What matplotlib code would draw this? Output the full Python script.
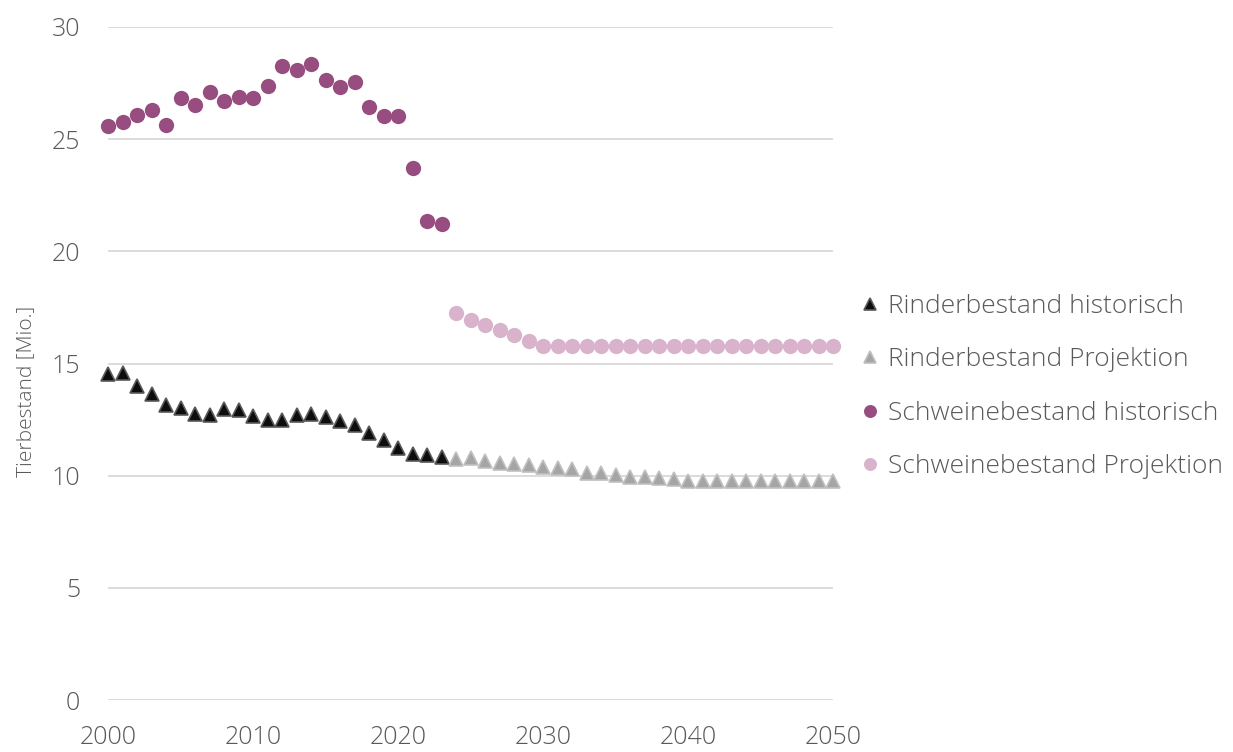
import numpy as np
import matplotlib
matplotlib.use("Agg")
import matplotlib.pyplot as plt

plt.rcParams["font.family"] = ["Open Sans", "DejaVu Sans"]
plt.rcParams["font.weight"] = "light"

# ---------- data (Mio. Tiere) ----------
years_hist = np.arange(2000, 2024)
years_proj = np.arange(2024, 2051)

rinder_hist = [14.53, 14.58, 14.00, 13.62, 13.15, 13.02, 12.75, 12.70, 12.97, 12.92,
               12.64, 12.50, 12.50, 12.70, 12.75, 12.60, 12.44, 12.25, 11.92, 11.60,
               11.24, 10.97, 10.93, 10.82]
rinder_proj = [10.76, 10.79, 10.67, 10.57, 10.52, 10.48, 10.40, 10.34, 10.30, 10.14,
               10.12, 10.03, 9.96, 9.95, 9.90, 9.85, 9.78, 9.78, 9.78, 9.78,
               9.78, 9.78, 9.78, 9.78, 9.78, 9.78, 9.78]

schweine_hist = [25.59, 25.77, 26.08, 26.30, 25.63, 26.84, 26.53, 27.11, 26.71, 26.89,
                 26.84, 27.37, 28.27, 28.09, 28.35, 27.64, 27.33, 27.55, 26.44, 26.04,
                 26.04, 23.72, 21.36, 21.22]
schweine_proj = [17.25, 16.94, 16.72, 16.50, 16.27, 16.01] + [15.78] * 21

labels = ["Rinderbestand historisch", "Rinderbestand Projektion",
          "Schweinebestand historisch", "Schweinebestand Projektion"]

# ---------- styling ----------
TXT = "#595959"
GRID = "#d9d9d9"
C_RIND_H, E_RIND_H = "#0d0d0d", "#595959"
C_RIND_P, E_RIND_P = "#a5a5a5", "#c0c0c0"
C_SCHW_H = "#974d7f"
C_SCHW_P = "#d9b3cc"

fig = plt.figure(figsize=(12.33, 7.52), dpi=100)
ax = fig.add_axes([0.0876, 0.0691, 0.588, 0.895])

tri = dict(marker="^", linestyle="none", markersize=10, markeredgewidth=1.2)
circ = dict(marker="o", linestyle="none", markersize=11, markeredgewidth=0)

ax.plot(years_hist, rinder_hist, color=C_RIND_H, markeredgecolor=E_RIND_H,
        label=labels[0], zorder=3, **tri)
ax.plot(years_proj, rinder_proj, color=C_RIND_P, markeredgecolor=E_RIND_P,
        label=labels[1], zorder=3, **tri)
ax.plot(years_hist, schweine_hist, color=C_SCHW_H, label=labels[2], zorder=3, **circ)
ax.plot(years_proj, schweine_proj, color=C_SCHW_P, label=labels[3], zorder=3, **circ)

ax.set_xlim(2000, 2050)
ax.set_ylim(0, 30)
ax.set_xticks(range(2000, 2051, 10))
ax.set_yticks(range(0, 31, 5))
ax.grid(axis="y", color=GRID, linewidth=1.3)
ax.set_axisbelow(True)
for s in ax.spines.values():
    s.set_visible(False)
ax.tick_params(length=0, labelsize=18, colors=TXT)
ax.tick_params(axis="x", pad=18)
ax.tick_params(axis="y", pad=20)
for ln in ax.lines:
    ln.set_clip_on(False)

fig.text(0.021, 0.48, "Tierbestand [Mio.]", rotation=90, ha="center", va="center",
         fontsize=15, color=TXT)

leg = fig.legend(loc="center left", bbox_to_anchor=(0.681, 0.486), frameon=False,
                 fontsize=19, markerscale=0.85, handlelength=0.5, handletextpad=0.45,
                 labelspacing=1.08, labelcolor=TXT)

fig.savefig("out.png", dpi=100)
